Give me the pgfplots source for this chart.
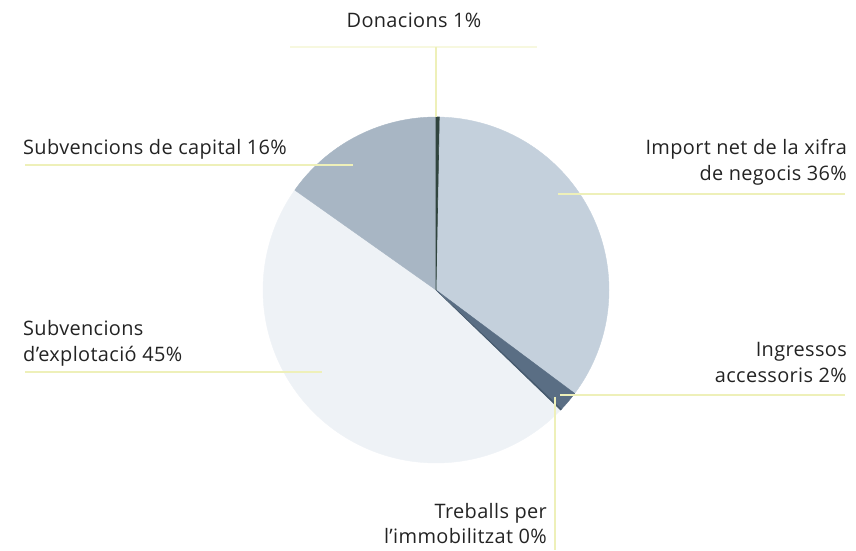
\documentclass[border=0pt]{standalone}
\usepackage{pgfplots}
\pgfplotsset{compat=1.18}
\usepackage{fontspec}
\setmainfont{Open Sans}[LetterSpace=1.8]

\definecolor{donac}{RGB}{48,68,62}
\definecolor{impor}{RGB}{196,208,220}
\definecolor{ingre}{RGB}{90,110,132}
\definecolor{treba}{RGB}{70,90,110}
\definecolor{explo}{RGB}{238,242,246}
\definecolor{capit}{RGB}{168,182,196}
\definecolor{leader}{RGB}{238,240,185}
\definecolor{txt}{RGB}{35,35,35}

\tikzset{lbl/.style={font=\fontsize{20}{24}\selectfont, text=txt, inner sep=0pt}}

% pie geometry (picture units = pixels of the 856x550 reference)
\def\cx{436}
\def\cy{290}
\def\rr{173}

% slice shares in percent, clockwise from the top (as drawn)
\def\pDon{0.3}
\def\pImp{34.9}
\def\pIng{1.9}
\def\pTre{0.1}
\def\pExp{47.6}
\def\pCap{15.2}

\pgfmathsetmacro\aA{90}
\pgfmathsetmacro\aB{\aA-3.6*\pDon}
\pgfmathsetmacro\aC{\aB-3.6*\pImp}
\pgfmathsetmacro\aD{\aC-3.6*\pIng}
\pgfmathsetmacro\aE{\aD-3.6*\pTre}
\pgfmathsetmacro\aF{\aE-3.6*\pExp}
\pgfmathsetmacro\aG{\aF-3.6*\pCap}

\begin{document}
\begin{tikzpicture}
  \begin{axis}[
      width=856bp, height=550bp,
      scale only axis,
      xmin=0, xmax=856,
      ymin=0, ymax=550,
      y dir=reverse,
      hide axis,
      clip=false,
    ]
    \path (axis cs:0,0) (axis cs:856,550);

    % --- slices ---
    \addplot[draw=impor, fill=impor, domain=\aC:\aB, samples=90]
      ({\cx+\rr*cos(x)}, {\cy-\rr*sin(x)}) -- (axis cs:\cx,\cy) -- cycle;
    \addplot[draw=ingre, fill=ingre, domain=\aD:\aC, samples=10]
      ({\cx+\rr*cos(x)}, {\cy-\rr*sin(x)}) -- (axis cs:\cx,\cy) -- cycle;
    \addplot[draw=explo, fill=explo, domain=\aF:\aE, samples=120]
      ({\cx+\rr*cos(x)}, {\cy-\rr*sin(x)}) -- (axis cs:\cx,\cy) -- cycle;
    \addplot[draw=capit, fill=capit, domain=\aG:\aF, samples=40]
      ({\cx+\rr*cos(x)}, {\cy-\rr*sin(x)}) -- (axis cs:\cx,\cy) -- cycle;
    \addplot[draw=treba, fill=treba, line width=0.6pt, domain=\aE:\aD, samples=2]
      ({\cx+\rr*cos(x)}, {\cy-\rr*sin(x)}) -- (axis cs:\cx,\cy) -- cycle;
    \addplot[draw=donac, fill=donac, line width=0.6pt, domain=\aB:\aA, samples=2]
      ({\cx+\rr*cos(x)}, {\cy-\rr*sin(x)}) -- (axis cs:\cx,\cy) -- cycle;

    % --- leader lines ---
    \addplot[leader!45, line width=1.5pt] coordinates {(290,47) (537,47)};
    \addplot[leader, line width=1.6pt] coordinates {(436,47) (436,117)};
    \addplot[leader, line width=1.6pt] coordinates {(25,165) (353,165)};
    \addplot[leader, line width=1.6pt] coordinates {(25,372) (322,372)};
    \addplot[leader, line width=1.6pt] coordinates {(558,194) (845,194)};
    \addplot[leader, line width=1.6pt] coordinates {(560,395) (845,395)};
    \addplot[leader, line width=1.6pt] coordinates {(555,397) (555,550)};

    % --- labels ---
    \node[lbl, anchor=base] at (axis cs:414,28) {Donacions 1\%};
    \node[lbl, anchor=base west] at (axis cs:23,155) {Subvencions de capital 16\%};
    \node[lbl, anchor=base west] at (axis cs:23,336) {Subvencions};
    \node[lbl, anchor=base west] at (axis cs:23,362) {d’explotació 45\%};
    \node[lbl, anchor=base east] at (axis cs:847,155) {Import net de la xifra};
    \node[lbl, anchor=base east] at (axis cs:847,181) {de negocis 36\%};
    \node[lbl, anchor=base east] at (axis cs:847,357) {Ingressos};
    \node[lbl, anchor=base east] at (axis cs:847,383) {accessoris 2\%};
    \node[lbl, anchor=base east] at (axis cs:547,518) {Treballs per};
    \node[lbl, anchor=base east] at (axis cs:547,543) {l’immobilitzat 0\%};
  \end{axis}
\end{tikzpicture}
\end{document}
